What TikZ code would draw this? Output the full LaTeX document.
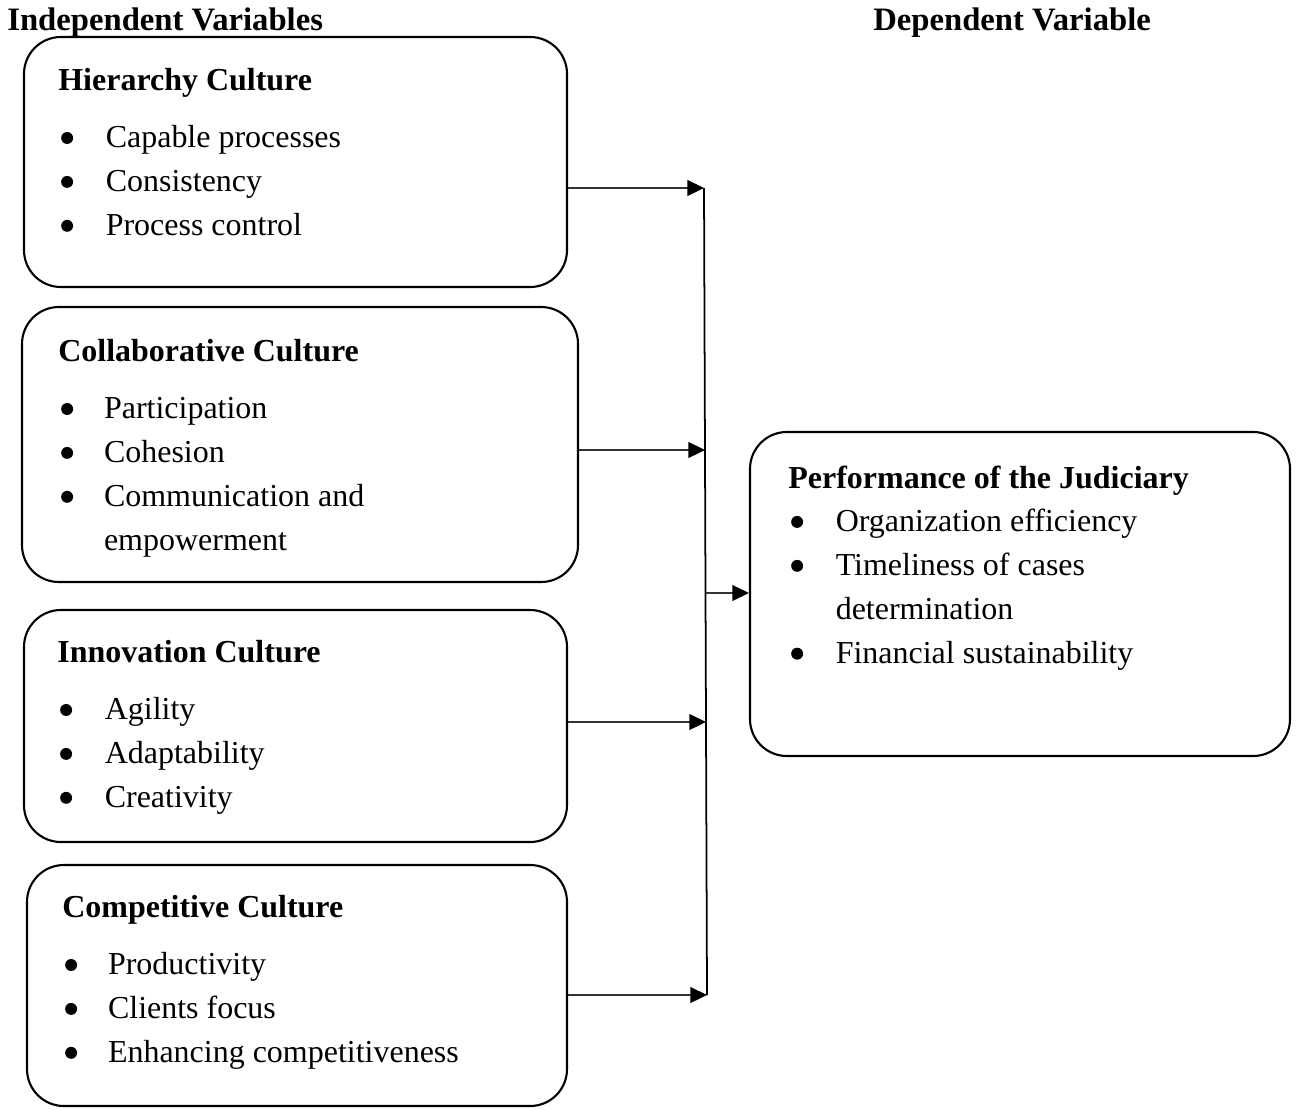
\documentclass[tikz,border=0pt]{standalone}
\usepackage{fontspec}
\setmainfont{Liberation Serif}
\usetikzlibrary{arrows.meta,fit}
\newcommand{\itm}{\tikz[baseline=0pt]{\path (0pt,0pt); \fill (5pt,5.7pt) circle (3.4pt);}}
\newcommand{\hd}[1]{\multicolumn{2}{@{}l@{}}{\bfseries #1}}

\begin{document}
\begin{tikzpicture}[x=0.02cm, y=-0.02cm,
	box/.style={draw, line width=1.2pt, rounded corners=21pt, inner sep=0pt},
	txt/.style={anchor=base west, inner sep=0pt, font=\fontsize{18.2}{25}\selectfont},
	head/.style={anchor=base west, inner sep=0pt, font=\fontsize{18.6}{25}\selectfont\bfseries},
	arr/.style={line width=1pt, black!80, -{Triangle[length=9.5pt,width=9pt,color=black]}}]
	\useasboundingbox (0,0) rectangle (1297,1109);

	\node[head] (indep) at (7,30) {Independent Variables};
	\node[head] (dep) at (873,30) {Dependent Variable};

	% boxes
	\node[box, fit={(24,37) (567,287)}] (hier) {};
	\node[box, fit={(22,307) (578,582)}] (collab) {};
	\node[box, fit={(24,610) (567,842)}] (innov) {};
	\node[box, fit={(27,865) (567,1106)}] (compet) {};
	\node[box, fit={(750,432) (1290,756)}] (perf) {};

	\node[txt] (hiertxt) at (58,90) {\begin{tabular}[t]{@{}p{27pt}@{}l@{}}
		\hd{Hierarchy Culture}\\[8pt]
		\itm & Capable processes\\
		\itm & Consistency\\
		\itm & Process control
	\end{tabular}};
	\node[txt] (collabtxt) at (58,361) {\begin{tabular}[t]{@{}p{26pt}@{}l@{}}
		\hd{Collaborative Culture}\\[8pt]
		\itm & Participation\\
		\itm & Cohesion\\
		\itm & Communication and\\
		& empowerment
	\end{tabular}};
	\node[txt] (innovtxt) at (57,662) {\begin{tabular}[t]{@{}p{27pt}@{}l@{}}
		\hd{Innovation Culture}\\[8pt]
		\itm & Agility\\
		\itm & Adaptability\\
		\itm & Creativity
	\end{tabular}};
	\node[txt] (compettxt) at (62,917) {\begin{tabular}[t]{@{}p{26pt}@{}l@{}}
		\hd{Competitive Culture}\\[8pt]
		\itm & Productivity\\
		\itm & Clients focus\\
		\itm & Enhancing competitiveness
	\end{tabular}};
	\node[txt] (perftxt) at (788,488) {\begin{tabular}[t]{@{}p{27pt}@{}l@{}}
		\hd{Performance of the Judiciary}\\
		\itm & Organization efficiency\\
		\itm & Timeliness of cases\\
		& determination\\
		\itm & Financial sustainability
	\end{tabular}};

	% connectors
	\coordinate (b1) at (704,188);
	\coordinate (b2) at (705,450);
	\coordinate (bm) at (705.5,593);
	\coordinate (b3) at (706,722);
	\coordinate (b4) at (707,995);
	\draw[line width=1pt] (b1) -- (b4);
	\draw[arr] (hier.east |- b1) -- (b1);
	\draw[arr] (collab.east |- b2) -- (b2);
	\draw[arr] (innov.east |- b3) -- (b3);
	\draw[arr] (compet.east |- b4) -- (b4);
	\draw[arr] (bm) -- (perf.west |- bm);
\end{tikzpicture}
\end{document}
